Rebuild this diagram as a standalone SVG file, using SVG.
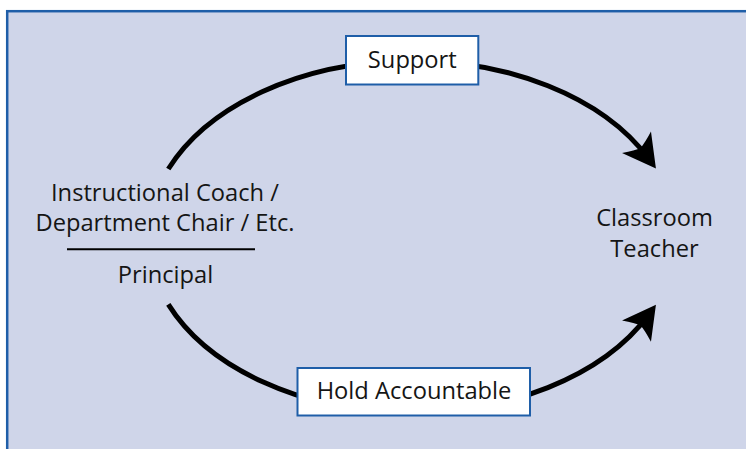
<svg xmlns="http://www.w3.org/2000/svg" width="746" height="449" viewBox="0 0 746 449">
  <style>
    .lbl { font-family: "Open Sans", "Noto Sans", "Liberation Sans", sans-serif; font-size: 23.7px; fill: #151515; text-anchor: middle; }
    .box { fill: #ffffff; stroke: #1f5ea8; stroke-width: 2; }
    .conn { fill: none; stroke: #000000; stroke-width: 5; }
  </style>
  <defs>
    <marker id="ah" markerUnits="userSpaceOnUse" orient="auto" refX="0" refY="0" markerWidth="60" markerHeight="60" viewBox="-30 -30 60 60" overflow="visible">
      <path d="M12,0 L-20.7,-18 Q-15,-6 -13.7,0 Q-15,6 -20.7,18 Z" fill="#000000"/>
    </marker>
  </defs>

  <rect id="frame" x="7.2" y="11.2" width="760" height="460" fill="#cfd5e9" stroke="#1f5ea8" stroke-width="2.5"/>

  <g id="connectors">
    <path class="conn" d="M168.3,169 A264,176 0 0 1 648.8,158.9" marker-end="url(#ah)"/>
    <path class="conn" d="M168.3,304.4 A264,176 0 0 0 648.8,314.5" marker-end="url(#ah)"/>
  </g>

  <g id="leaders">
    <text class="lbl" x="165" y="200.5">Instructional Coach /</text>
    <text class="lbl" x="165" y="230.7">Department Chair / Etc.</text>
    <line x1="67" y1="249.3" x2="255" y2="249.3" stroke="#000000" stroke-width="2"/>
    <text class="lbl" x="165.5" y="283">Principal</text>
  </g>

  <g id="teacher">
    <text class="lbl" x="654.5" y="226">Classroom</text>
    <text class="lbl" x="654.5" y="257">Teacher</text>
  </g>

  <g id="support">
    <rect class="box" x="346" y="36" width="132.3" height="48.5"/>
    <text class="lbl" x="412.3" y="68.3">Support</text>
  </g>

  <g id="hold-accountable">
    <rect class="box" x="297.5" y="368" width="232.5" height="47.5"/>
    <text class="lbl" x="414" y="399.3">Hold Accountable</text>
  </g>
</svg>
